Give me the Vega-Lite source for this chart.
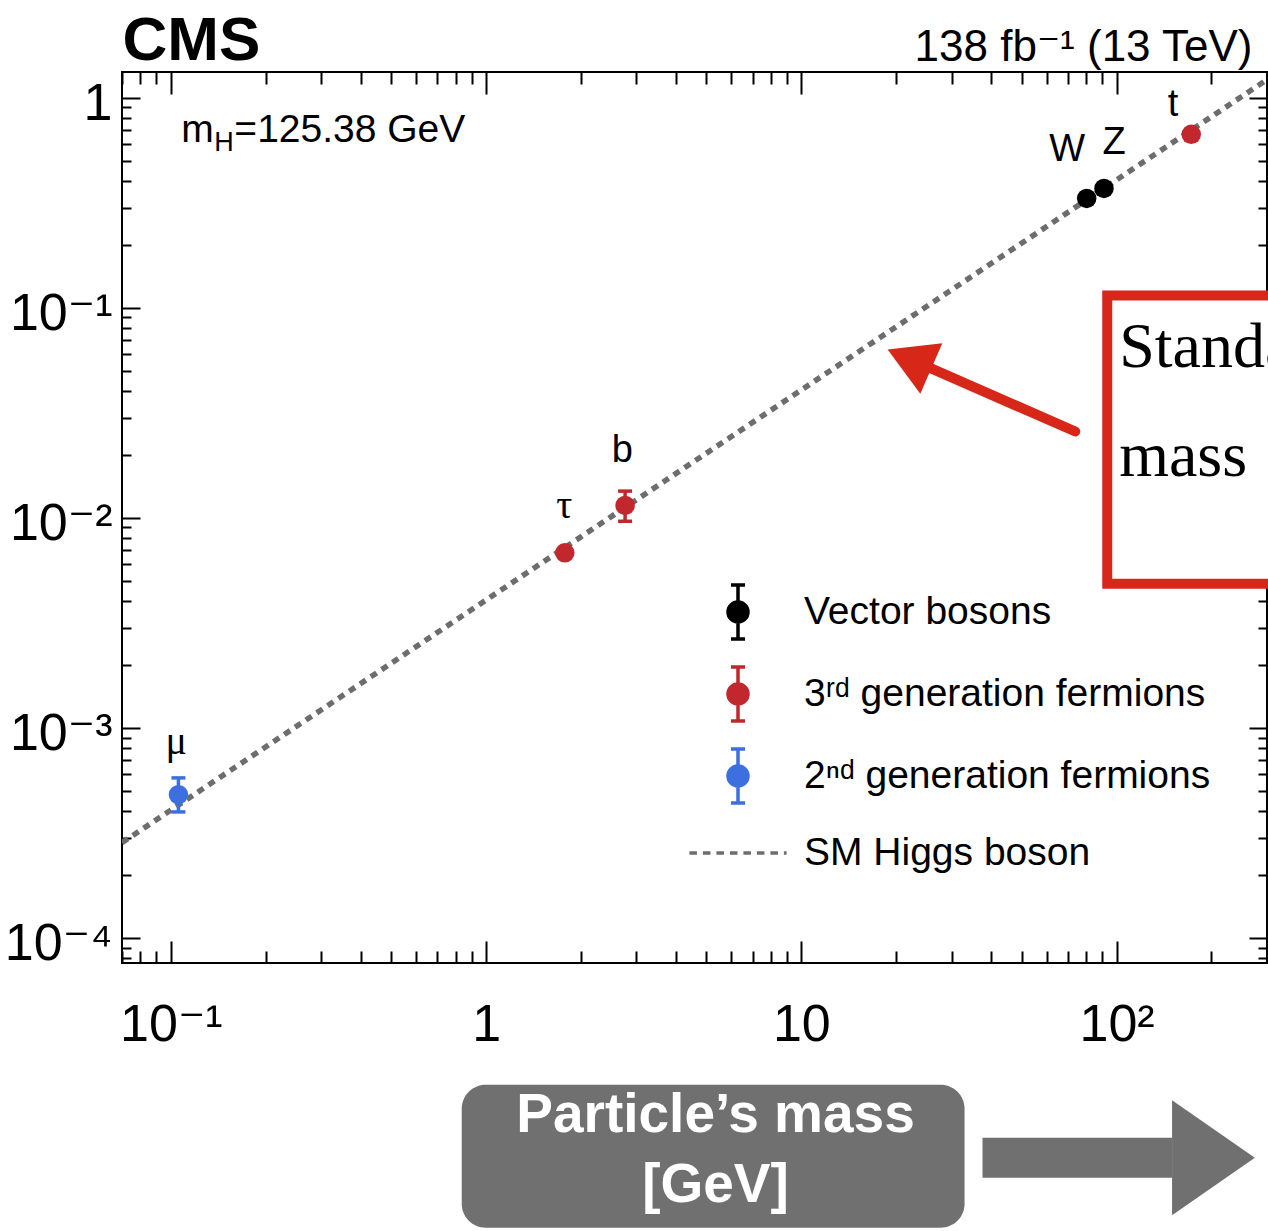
{
  "$schema": "https://vega.github.io/schema/vega-lite/v6.json",
  "width": 1145,
  "height": 891,
  "autosize": {"type": "none"},
  "padding": {"left": 122, "top": 72, "right": 1, "bottom": 268},
  "background": "white",
  "config": {
    "view": {"stroke": "black", "strokeWidth": 2},
    "font": "Liberation Sans"
  },
  "datasets": {
    "particles": [
      {"particle": "mu", "label": "μ", "group": "2ⁿᵈ generation fermions", "mass": 0.1057, "coupling": 0.000481, "lo": 0.000398, "hi": 0.000578, "lx": 0.1041, "ly": 0.000855},
      {"particle": "tau", "label": "τ", "group": "3ʳᵈ generation fermions", "mass": 1.777, "coupling": 0.00681, "lo": 0.0065, "hi": 0.00712, "lx": 1.77, "ly": 0.01137},
      {"particle": "b", "label": "b", "group": "3ʳᵈ generation fermions", "mass": 2.76, "coupling": 0.01145, "lo": 0.00963, "hi": 0.0134, "lx": 2.704, "ly": 0.02078},
      {"particle": "W", "label": "W", "group": "Vector bosons", "mass": 80.38, "coupling": 0.3315, "lo": 0.322, "hi": 0.341, "lx": 69.7, "ly": 0.5636},
      {"particle": "Z", "label": "Z", "group": "Vector bosons", "mass": 91.19, "coupling": 0.37, "lo": 0.36, "hi": 0.381, "lx": 98.2, "ly": 0.608},
      {"particle": "t", "label": "t", "group": "3ʳᵈ generation fermions", "mass": 172.5, "coupling": 0.669, "lo": 0.63, "hi": 0.705, "lx": 151, "ly": 0.923}
    ],
    "sm": [
      {"mass": 0.07, "coupling": 0.0002843},
      {"mass": 300, "coupling": 1.2184}
    ]
  },
  "resolve": {"axis": {"x": "independent", "y": "independent"}},
  "layer": [
    {
      "data": {"name": "sm"},
      "mark": {"type": "line", "color": "#6d6d6d", "strokeWidth": 5.5, "strokeDash": [7, 6], "clip": true},
      "encoding": {
        "x": {
          "field": "mass", "type": "quantitative",
          "scale": {"type": "log", "domain": [0.07, 300]},
          "axis": {
            "orient": "bottom",
            "values": [0.07, 0.08, 0.09, 0.1, 0.2, 0.3, 0.4, 0.5, 0.6, 0.7, 0.8, 0.9, 1, 2, 3, 4, 5, 6, 7, 8, 9, 10, 20, 30, 40, 50, 60, 70, 80, 90, 100, 200],
            "ticks": false, "tickSize": 0, "domain": false,
            "grid": true, "gridColor": "black", "gridWidth": 2, "gridOpacity": 1,
            "gridDash": {"condition": {"test": "indexof([0.1, 1, 10, 100], datum.value) >= 0", "value": [22, 847, 22]}, "value": [12, 867, 12]},
            "labelExpr": "datum.value == 0.1 ? '10⁻¹' : datum.value == 1 ? '1' : datum.value == 10 ? '10' : datum.value == 100 ? '10²' : ''",
            "labelFont": "Liberation Sans, DejaVu Sans", "labelFontSize": 52, "labelColor": "black",
            "labelPadding": 36, "labelOverlap": false, "labelFlush": false, "labelBound": false,
            "title": ["Particle’s mass", "[GeV]"],
            "titleX": 593, "titleY": 168, "titleAlign": "center", "titleBaseline": "alphabetic",
            "titleColor": "white", "titleFont": "Liberation Sans", "titleFontSize": 55, "titleFontWeight": "bold", "titleLineHeight": 70,
            "zindex": 1
          }
        },
        "y": {
          "field": "coupling", "type": "quantitative",
          "scale": {"type": "log", "domain": [0.000076, 1.325]},
          "axis": {
            "orient": "left",
            "values": [0.00008, 0.00009, 0.0001, 0.0002, 0.0003, 0.0004, 0.0005, 0.0006, 0.0007, 0.0008, 0.0009, 0.001, 0.002, 0.003, 0.004, 0.005, 0.006, 0.007, 0.008, 0.009, 0.01, 0.02, 0.03, 0.04, 0.05, 0.06, 0.07, 0.08, 0.09, 0.1, 0.2, 0.3, 0.4, 0.5, 0.6, 0.7, 0.8, 0.9, 1],
            "ticks": false, "tickSize": 0, "domain": false,
            "grid": true, "gridColor": "black", "gridWidth": 2, "gridOpacity": 1,
            "gridDash": {"condition": {"test": "indexof([0.0001, 0.001, 0.01, 0.1, 1], datum.value) >= 0", "value": [18, 1109, 18]}, "value": [9, 1127, 9]},
            "labelExpr": "datum.value == 1 ? '1' : datum.value == 0.1 ? '10⁻¹' : datum.value == 0.01 ? '10⁻²' : datum.value == 0.001 ? '10⁻³' : datum.value == 0.0001 ? '10⁻⁴' : ''",
            "labelFont": "Liberation Sans, DejaVu Sans", "labelFontSize": 52, "labelColor": "black",
            "labelPadding": 10, "labelAlign": "right", "labelBaseline": "middle", "labelOffset": 6,
            "labelOverlap": false, "labelFlush": false, "labelBound": false,
            "title": "CMS", "titleAngle": 0, "titleX": 0, "titleY": -13, "titleAlign": "left", "titleBaseline": "alphabetic",
            "titleFont": "Liberation Sans", "titleFontSize": 62, "titleFontWeight": "bold", "titleColor": "black",
            "zindex": 0
          }
        }
      }
    },
    {
      "data": {"name": "particles"},
      "mark": {"type": "point", "filled": true, "opacity": 0},
      "encoding": {
        "x": {
          "field": "mass", "type": "quantitative",
          "scale": {"type": "log", "domain": [0.07, 300]},
          "axis": {
            "orient": "top", "ticks": false, "labels": false, "domain": false, "grid": false,
            "title": "138 fb⁻¹ (13 TeV)", "titleX": 1130, "titleY": -12, "titleAlign": "right", "titleBaseline": "alphabetic",
            "titleFont": "Liberation Sans, DejaVu Sans", "titleFontSize": 44, "titleFontWeight": "normal", "titleColor": "black"
          }
        },
        "y": {"field": "coupling", "type": "quantitative", "scale": {"type": "log", "domain": [0.000076, 1.325]}, "axis": null},
        "fill": {
          "field": "group", "type": "nominal",
          "scale": {"domain": ["Vector bosons", "3ʳᵈ generation fermions", "2ⁿᵈ generation fermions", "SM Higgs boson"], "range": ["#000000", "#c1272d", "#3d6fe0", "#6d6d6d"]},
          "legend": {"orient": "none", "legendX": 587, "legendY": 511, "title": null, "symbolSize": 2916, "symbolStrokeWidth": 3.5, "symbolOpacity": 1, "labelFont": "Liberation Sans, DejaVu Sans", "labelFontSize": 39, "labelColor": "black", "labelOffset": 37, "rowPadding": 14, "padding": 0, "labelLimit": 0}
        },
        "stroke": {
          "field": "group", "type": "nominal",
          "scale": {"domain": ["Vector bosons", "3ʳᵈ generation fermions", "2ⁿᵈ generation fermions", "SM Higgs boson"], "range": ["#000000", "#c1272d", "#3d6fe0", "#6d6d6d"]},
          "legend": {"orient": "none", "legendX": 587, "legendY": 511, "title": null, "symbolSize": 2916, "symbolStrokeWidth": 3.5, "symbolOpacity": 1, "labelFont": "Liberation Sans, DejaVu Sans", "labelFontSize": 39, "labelColor": "black", "labelOffset": 37, "rowPadding": 14, "padding": 0, "labelLimit": 0}
        },
        "shape": {
          "field": "group", "type": "nominal",
          "scale": {
            "domain": ["Vector bosons", "3ʳᵈ generation fermions", "2ⁿᵈ generation fermions", "SM Higgs boson"],
            "range": [
              "M0,-1V1M-0.26,-1H0.26M-0.26,1H0.26M-0.37,0A0.37,0.37 0 1,0 0.37,0A0.37,0.37 0 1,0 -0.37,0Z",
              "M0,-1V1M-0.26,-1H0.26M-0.26,1H0.26M-0.37,0A0.37,0.37 0 1,0 0.37,0A0.37,0.37 0 1,0 -0.37,0Z",
              "M0,-1V1M-0.26,-1H0.26M-0.26,1H0.26M-0.37,0A0.37,0.37 0 1,0 0.37,0A0.37,0.37 0 1,0 -0.37,0Z",
              "M-1.8,0H-1.52M-1.3,0H-1.02M-0.8,0H-0.52M-0.3,0H-0.02M0.2,0H0.48M0.7,0H0.98M1.2,0H1.48M1.7,0H1.8"
            ]
          },
          "legend": {"orient": "none", "legendX": 587, "legendY": 511, "title": null, "symbolSize": 2916, "symbolStrokeWidth": 3.5, "symbolOpacity": 1, "labelFont": "Liberation Sans, DejaVu Sans", "labelFontSize": 39, "labelColor": "black", "labelOffset": 37, "rowPadding": 14, "padding": 0, "labelLimit": 0}
        }
      }
    },
    {
      "data": {"name": "particles"},
      "mark": {"type": "rule", "strokeWidth": 3.5},
      "encoding": {
        "x": {"field": "mass", "type": "quantitative", "scale": {"type": "log", "domain": [0.07, 300]}, "axis": null},
        "y": {"field": "lo", "type": "quantitative", "scale": {"type": "log", "domain": [0.000076, 1.325]}, "axis": null},
        "y2": {"field": "hi"},
        "stroke": {"field": "group", "type": "nominal", "legend": null,
          "scale": {"domain": ["Vector bosons", "3ʳᵈ generation fermions", "2ⁿᵈ generation fermions", "SM Higgs boson"], "range": ["#000000", "#c1272d", "#3d6fe0", "#6d6d6d"]}}
      }
    },
    {
      "data": {"name": "particles"},
      "mark": {"type": "tick", "orient": "horizontal", "size": 14, "thickness": 3.5, "opacity": 1},
      "encoding": {
        "x": {"field": "mass", "type": "quantitative", "scale": {"type": "log", "domain": [0.07, 300]}, "axis": null},
        "y": {"field": "lo", "type": "quantitative", "scale": {"type": "log", "domain": [0.000076, 1.325]}, "axis": null},
        "fill": {"field": "group", "type": "nominal", "legend": null,
          "scale": {"domain": ["Vector bosons", "3ʳᵈ generation fermions", "2ⁿᵈ generation fermions", "SM Higgs boson"], "range": ["#000000", "#c1272d", "#3d6fe0", "#6d6d6d"]}}
      }
    },
    {
      "data": {"name": "particles"},
      "mark": {"type": "tick", "orient": "horizontal", "size": 14, "thickness": 3.5, "opacity": 1},
      "encoding": {
        "x": {"field": "mass", "type": "quantitative", "scale": {"type": "log", "domain": [0.07, 300]}, "axis": null},
        "y": {"field": "hi", "type": "quantitative", "scale": {"type": "log", "domain": [0.000076, 1.325]}, "axis": null},
        "fill": {"field": "group", "type": "nominal", "legend": null,
          "scale": {"domain": ["Vector bosons", "3ʳᵈ generation fermions", "2ⁿᵈ generation fermions", "SM Higgs boson"], "range": ["#000000", "#c1272d", "#3d6fe0", "#6d6d6d"]}}
      }
    },
    {
      "data": {"name": "particles"},
      "mark": {"type": "point", "filled": true, "shape": "circle", "size": 380, "opacity": 1, "strokeWidth": 0},
      "encoding": {
        "x": {"field": "mass", "type": "quantitative", "scale": {"type": "log", "domain": [0.07, 300]}, "axis": null},
        "y": {"field": "coupling", "type": "quantitative", "scale": {"type": "log", "domain": [0.000076, 1.325]}, "axis": null},
        "fill": {"field": "group", "type": "nominal", "legend": null,
          "scale": {"domain": ["Vector bosons", "3ʳᵈ generation fermions", "2ⁿᵈ generation fermions", "SM Higgs boson"], "range": ["#000000", "#c1272d", "#3d6fe0", "#6d6d6d"]}}
      }
    },
    {
      "data": {"name": "particles"},
      "transform": [{"filter": "indexof(['mu', 'tau'], datum.particle) < 0"}],
      "mark": {"type": "text", "font": "Liberation Sans", "fontSize": 38, "color": "black", "align": "center", "baseline": "middle"},
      "encoding": {
        "x": {"field": "lx", "type": "quantitative", "scale": {"type": "log", "domain": [0.07, 300]}, "axis": null},
        "y": {"field": "ly", "type": "quantitative", "scale": {"type": "log", "domain": [0.000076, 1.325]}, "axis": null},
        "text": {"field": "label"}
      }
    },
    {
      "data": {"name": "particles"},
      "transform": [{"filter": "indexof(['mu', 'tau'], datum.particle) >= 0"}],
      "mark": {"type": "text", "font": "Liberation Serif", "fontSize": 40, "color": "black", "align": "center", "baseline": "middle"},
      "encoding": {
        "x": {"field": "lx", "type": "quantitative", "scale": {"type": "log", "domain": [0.07, 300]}, "axis": null},
        "y": {"field": "ly", "type": "quantitative", "scale": {"type": "log", "domain": [0.000076, 1.325]}, "axis": null},
        "text": {"field": "label"}
      }
    },
    {
      "data": {"values": [{"t": "m", "mass": 0.108, "coupling": 0.6152}]},
      "mark": {"type": "text", "font": "Liberation Sans", "fontSize": 39, "color": "black", "align": "left", "baseline": "alphabetic"},
      "encoding": {
        "x": {"field": "mass", "type": "quantitative", "scale": {"type": "log", "domain": [0.07, 300]}, "axis": null},
        "y": {"field": "coupling", "type": "quantitative", "scale": {"type": "log", "domain": [0.000076, 1.325]}, "axis": null},
        "text": {"field": "t"}
      }
    },
    {
      "data": {"values": [{"t": "H", "mass": 0.108, "coupling": 0.6152}]},
      "mark": {"type": "text", "font": "Liberation Sans", "fontSize": 27, "color": "black", "align": "left", "baseline": "alphabetic", "dx": 33, "dy": 9},
      "encoding": {
        "x": {"field": "mass", "type": "quantitative", "scale": {"type": "log", "domain": [0.07, 300]}, "axis": null},
        "y": {"field": "coupling", "type": "quantitative", "scale": {"type": "log", "domain": [0.000076, 1.325]}, "axis": null},
        "text": {"field": "t"}
      }
    },
    {
      "data": {"values": [{"t": "=125.38 GeV", "mass": 0.108, "coupling": 0.6152}]},
      "mark": {"type": "text", "font": "Liberation Sans", "fontSize": 39, "color": "black", "align": "left", "baseline": "alphabetic", "dx": 53},
      "encoding": {
        "x": {"field": "mass", "type": "quantitative", "scale": {"type": "log", "domain": [0.07, 300]}, "axis": null},
        "y": {"field": "coupling", "type": "quantitative", "scale": {"type": "log", "domain": [0.000076, 1.325]}, "axis": null},
        "text": {"field": "t"}
      }
    },
    {
      "data": {"values": [{"x1": 93.4, "x2": 2000, "y1": 0.1145, "y2": 0.00486}]},
      "mark": {"type": "rect", "fill": "white", "stroke": "#d62718", "strokeWidth": 10},
      "encoding": {
        "x": {"field": "x1", "type": "quantitative", "scale": {"type": "log", "domain": [0.07, 300]}, "axis": null},
        "x2": {"field": "x2"},
        "y": {"field": "y1", "type": "quantitative", "scale": {"type": "log", "domain": [0.000076, 1.325]}, "axis": null},
        "y2": {"field": "y2"}
      }
    },
    {
      "data": {"values": [{"t": "Standard Model", "mass": 101.9, "coupling": 0.05196}, {"t": "mass\u00a0\u00a0\u00a0\u00a0is proportional", "mass": 101.9, "coupling": 0.01573}]},
      "mark": {"type": "text", "font": "Liberation Serif", "fontSize": 64, "color": "black", "align": "left", "baseline": "alphabetic"},
      "encoding": {
        "x": {"field": "mass", "type": "quantitative", "scale": {"type": "log", "domain": [0.07, 300]}, "axis": null},
        "y": {"field": "coupling", "type": "quantitative", "scale": {"type": "log", "domain": [0.000076, 1.325]}, "axis": null},
        "text": {"field": "t"}
      }
    },
    {
      "data": {"values": [{"x1": 73.96, "y1": 0.02576, "x2": 22.03, "y2": 0.05705}]},
      "mark": {"type": "rule", "color": "#d62718", "strokeWidth": 10, "strokeCap": "round"},
      "encoding": {
        "x": {"field": "x1", "type": "quantitative", "scale": {"type": "log", "domain": [0.07, 300]}, "axis": null},
        "y": {"field": "y1", "type": "quantitative", "scale": {"type": "log", "domain": [0.000076, 1.325]}, "axis": null},
        "x2": {"field": "x2"},
        "y2": {"field": "y2"}
      }
    },
    {
      "data": {"values": [{"mass": 22.03, "coupling": 0.05705}]},
      "mark": {"type": "point", "shape": "triangle-up", "filled": true, "color": "#d62718", "opacity": 1, "size": 3025, "angle": 293.6},
      "encoding": {
        "x": {"field": "mass", "type": "quantitative", "scale": {"type": "log", "domain": [0.07, 300]}, "axis": null},
        "y": {"field": "coupling", "type": "quantitative", "scale": {"type": "log", "domain": [0.000076, 1.325]}, "axis": null}
      }
    },
    {
      "data": {"values": [{"x1": 0.837, "x2": 32.94, "y1": 0.00002, "y2": 0.00000417}]},
      "mark": {"type": "rect", "fill": "#707070", "cornerRadius": 24},
      "encoding": {
        "x": {"field": "x1", "type": "quantitative", "scale": {"type": "log", "domain": [0.07, 300]}, "axis": null},
        "x2": {"field": "x2"},
        "y": {"field": "y1", "type": "quantitative", "scale": {"type": "log", "domain": [0.000076, 1.325]}, "axis": null},
        "y2": {"field": "y2"}
      }
    },
    {
      "data": {"values": [{"x1": 37.56, "x2": 149.9, "y1": 0.0000112, "y2": 0.00000722}]},
      "mark": {"type": "rect", "fill": "#707070"},
      "encoding": {
        "x": {"field": "x1", "type": "quantitative", "scale": {"type": "log", "domain": [0.07, 300]}, "axis": null},
        "x2": {"field": "x2"},
        "y": {"field": "y1", "type": "quantitative", "scale": {"type": "log", "domain": [0.000076, 1.325]}, "axis": null},
        "y2": {"field": "y2"}
      }
    },
    {
      "data": {"values": [{"mass": 202.9, "coupling": 0.00000899}]},
      "mark": {"type": "point", "shape": "M-0.72,-1L0.72,0L-0.72,1Z", "filled": true, "color": "#707070", "opacity": 1, "size": 13225, "strokeWidth": 0},
      "encoding": {
        "x": {"field": "mass", "type": "quantitative", "scale": {"type": "log", "domain": [0.07, 300]}, "axis": null},
        "y": {"field": "coupling", "type": "quantitative", "scale": {"type": "log", "domain": [0.000076, 1.325]}, "axis": null}
      }
    }
  ]
}
